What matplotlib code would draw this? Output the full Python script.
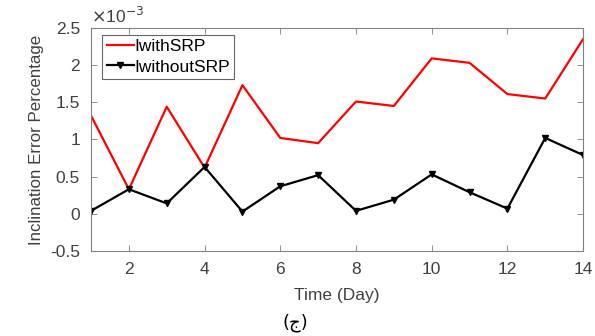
import matplotlib
matplotlib.use("Agg")
import matplotlib.pyplot as plt

plt.rcParams['font.family'] = ['Liberation Sans', 'DejaVu Sans']

days = list(range(1, 15))
# values in units of 1e-3
i_with_srp = [1.32, 0.33, 1.44, 0.62, 1.73, 1.02, 0.95, 1.51, 1.45, 2.09, 2.03, 1.61, 1.55, 2.35]
i_without_srp = [0.04, 0.33, 0.14, 0.63, 0.03, 0.37, 0.52, 0.04, 0.19, 0.53, 0.29, 0.07, 1.02, 0.79]
x_ticks = [2, 4, 6, 8, 10, 12, 14]
y_ticks = [-0.5, 0, 0.5, 1, 1.5, 2, 2.5]
y_tick_labels = ['-0.5', '0', '0.5', '1', '1.5', '2', '2.5']

fig = plt.figure(figsize=(5.95, 3.36), dpi=100)
ax = fig.add_axes([0.153, 0.253, 0.827, 0.664])

ax.plot(days, i_with_srp, color='#ff0000', lw=1.6, label='IwithSRP')
ax.plot(days, i_without_srp, color='black', lw=1.6, marker='v', ms=4.5, label='IwithoutSRP')

ax.set_xlim(1, 14)
ax.set_ylim(-0.5, 2.5)
ax.set_xticks(x_ticks)
ax.set_yticks(y_ticks)
ax.set_yticklabels(y_tick_labels)
tc = '#404040'
ax.tick_params(direction='in', top=True, right=True, length=4, width=0.6, colors='#808080',
               labelcolor=tc, labelsize=12.5, pad=8)
for s in ax.spines.values():
    s.set_color('#808080')
    s.set_linewidth(0.8)

ax.set_xlabel('Time (Day)', fontsize=12.5, color=tc, labelpad=8)
ax.set_ylabel('Inclination Error Percentage', fontsize=12.2, color=tc, labelpad=4)
ax.text(0.0, 1.01, r'$\times$10$^{-3}$', transform=ax.transAxes, fontsize=12.5, color=tc,
        ha='left', va='bottom')

leg = ax.legend(loc='upper left', bbox_to_anchor=(0.016, 0.985), fontsize=12.5, frameon=True,
                fancybox=False, edgecolor='#404040', borderpad=0.25, handlelength=1.55,
                handletextpad=0.05, labelspacing=0.3, borderaxespad=0.2)
leg.get_frame().set_linewidth(0.8)

fig.text(0.497, 0.04, '(ج)', fontsize=13, ha='center', va='center', color='black',
         family=['DejaVu Sans', 'Noto Sans'])

fig.savefig('out.png', dpi=100)
